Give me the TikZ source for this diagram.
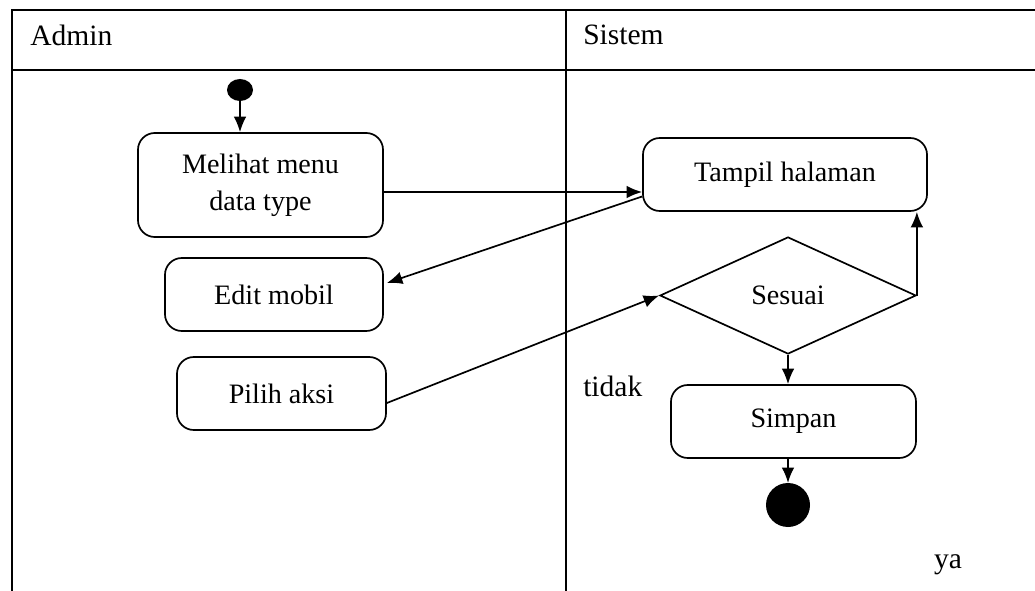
\documentclass[tikz,border=0pt]{standalone}
\usepackage{fontspec}
\setmainfont{Liberation Serif}
\usepackage{tikz}
\usetikzlibrary{shapes.geometric,calc,arrows.meta}

\tikzset{
  akt/.style={draw,rounded corners=12pt,line width=1.2pt,align=center,inner sep=2pt,font=\fontsize{20}{26}\selectfont},
  kep/.style={draw,diamond,line width=1.2pt,inner sep=0pt,minimum width=6.4cm,minimum height=2.925cm,font=\fontsize{20}{26}\selectfont},
  panah/.style={-{Latex[length=11pt,width=9pt]},line width=1.2pt},
  teks/.style={font=\fontsize{21}{26}\selectfont,inner sep=0pt}
}

\begin{document}
\begin{tikzpicture}[x=0.025cm,y=-0.025cm]
		\useasboundingbox (0,0) rectangle (1035,591);
		%swimlane
		\draw[line width=1.2pt] (12,591) -- (12,10) -- (1035,10) (12,70) -- (1035,70) (566,10) -- (566,591);
		\node[teks,anchor=west] (admin) at (30,35) {Admin};
		\node[teks,anchor=west] (sistem) at (583,35) {Sistem};
		%aktivitas
		\fill (240,90) node[](mulai){} ellipse (13 and 11);
		\node[akt,minimum width=6.125cm,minimum height=2.6cm] (melihat) at (260.5,185) {Melihat menu\\data type};
		\node[akt,minimum width=7.1cm,minimum height=1.825cm] (tampil) at (785,174.5) {Tampil halaman};
		\node[akt,minimum width=5.45cm,minimum height=1.825cm] (edit) at (274,294.5) {Edit mobil};
		\node[akt,minimum width=5.225cm,minimum height=1.825cm] (pilih) at (281.5,393.5) {Pilih aksi};
		\node[kep] (sesuai) at (788,295.5) {Sesuai};
		\node[akt,minimum width=6.125cm,minimum height=1.825cm] (simpan) at (793.5,421.5) {Simpan};
		\fill (788,505) node[](selesai){} circle (22);
		\node[teks,anchor=west] (tidak) at (583,386) {tidak};
		\node[teks] (ya) at (948,565) {ya};
		%alur
		\draw[panah] (240,101) -- (melihat.north -| mulai);
		\draw[panah] ($(melihat.east)+(0,7)$) -- ($(tampil.west)+(0,17.5)$);
		\draw[panah] ($(tampil.west)+(0,22)$) -- ($(edit.east)+(3,-11.5)$);
		\draw[panah] ($(pilih.east)+(0,9.5)$) -- (sesuai.west);
		\draw[panah] (sesuai.east) -- (sesuai.east |- tampil.south);
		\draw[panah] (sesuai.south) -- (sesuai.south |- simpan.north);
		\draw[panah] (simpan.south -| selesai) -- (788,483);
	\end{tikzpicture}
\end{document}
